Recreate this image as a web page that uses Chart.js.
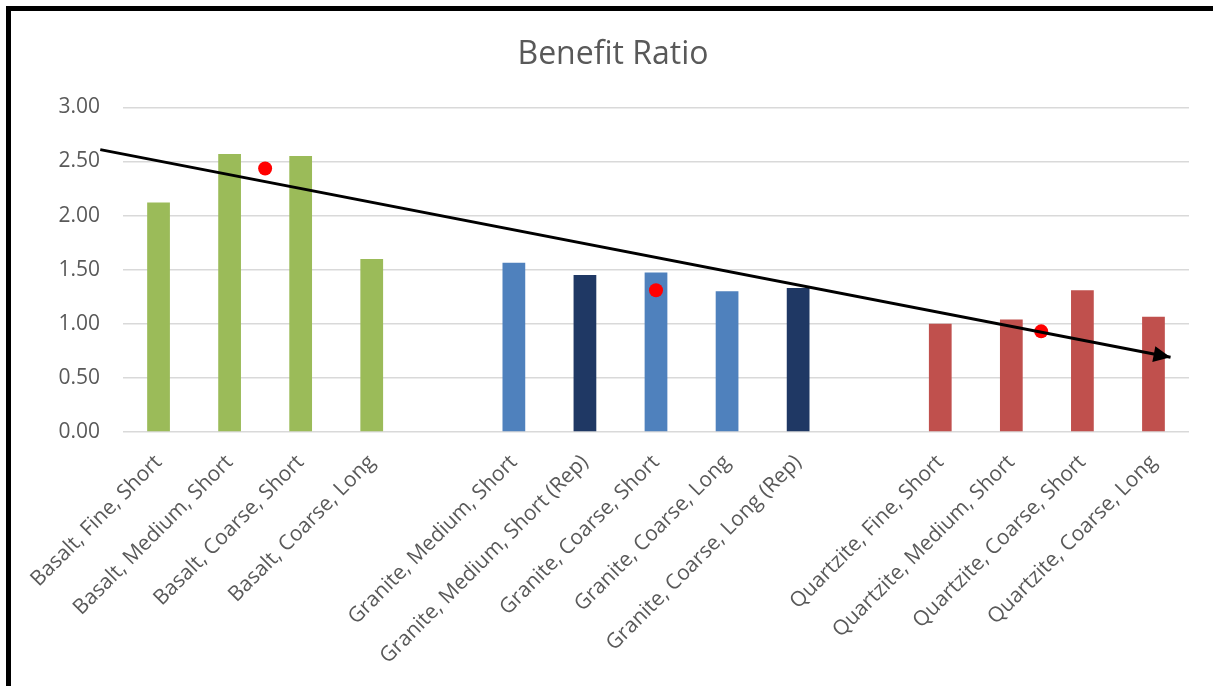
<!DOCTYPE html>
<html>
<head>
<meta charset="utf-8">
<title>Benefit Ratio</title>
<script src="https://cdn.jsdelivr.net/npm/chart.js@4.4.1/dist/chart.umd.min.js"></script>
<style>
  html, body { margin: 0; padding: 0; background: #fff; }
  #wrap { position: relative; width: 1213px; height: 686px; overflow: hidden; background: #fff; }
  #wrap canvas { position: absolute; left: 0; top: 0; }
  #frame {
    position: absolute; left: 6px; top: 6px; width: 1300px; height: 800px;
    border-top: 5px solid #000; border-left: 5px solid #000; pointer-events: none;
  }
</style>
</head>
<body>
<div id="wrap">
  <canvas id="chart" width="1213" height="686"></canvas>
  <div id="frame"></div>
</div>
<script>
// Rock type, grain size and run length for each bar; blank slots separate the groups
const categories = [
  'Basalt, Fine, Short', 'Basalt, Medium, Short', 'Basalt, Coarse, Short', 'Basalt, Coarse, Long',
  '',
  'Granite, Medium, Short', 'Granite, Medium, Short (Rep)', 'Granite, Coarse, Short',
  'Granite, Coarse, Long', 'Granite, Coarse, Long (Rep)',
  '',
  'Quartzite, Fine, Short', 'Quartzite, Medium, Short', 'Quartzite, Coarse, Short', 'Quartzite, Coarse, Long'
];

// Benefit ratio per category (null = spacer)
const benefitRatio = [
  2.12, 2.57, 2.55, 1.60,
  null,
  1.565, 1.45, 1.475, 1.30, 1.33,
  null,
  1.00, 1.04, 1.31, 1.065
];

// Bar fill per category
const barColors = [
  '#9BBB59', '#9BBB59', '#9BBB59', '#9BBB59',
  null,
  '#4F81BD', '#1F3864', '#4F81BD', '#4F81BD', '#1F3864',
  null,
  '#C0504D', '#C0504D', '#C0504D', '#C0504D'
];

// Group averages, placed by category position
const groupMeanX = [1.5, 7, 12.42];
const groupMeanY = [2.435, 1.31, 0.93];

// Downward trend arrow: start and end in category position / ratio
const trendX = [-0.82, 14.24];
const trendY = [2.61, 0.69];

// Value axis
const yMin = 0, yMax = 3, yStep = 0.5;

const textGrey = '#595959';
const gridGrey = '#D9D9D9';

// Arrowhead at the last point of the trend line
const arrowHead = {
  id: 'arrowHead',
  afterDatasetsDraw(chart) {
    const idx = chart.data.datasets.findIndex(d => d.label === 'Trend');
    const pts = chart.getDatasetMeta(idx).data;
    const a = pts[pts.length - 2], b = pts[pts.length - 1];
    const ang = Math.atan2(b.y - a.y, b.x - a.x);
    const ctx = chart.ctx;
    ctx.save();
    ctx.translate(b.x, b.y);
    ctx.rotate(ang);
    ctx.beginPath();
    ctx.moveTo(0, 0);
    ctx.lineTo(-17, -8);
    ctx.lineTo(-17, 8);
    ctx.closePath();
    ctx.fillStyle = '#000';
    ctx.fill();
    ctx.restore();
  }
};

const ctx = document.getElementById('chart').getContext('2d');
new Chart(ctx, {
  type: 'bar',
  data: {
    labels: categories,
    datasets: [
      {
        label: 'Benefit Ratio',
        data: benefitRatio,
        backgroundColor: barColors,
        barPercentage: 0.32,
        categoryPercentage: 1,
        grouped: false,
        xAxisID: 'x',
        order: 3
      },
      {
        type: 'scatter',
        label: 'Mean',
        data: groupMeanX.map((x, i) => ({ x, y: groupMeanY[i] })),
        backgroundColor: '#FF0000',
        borderWidth: 0,
        pointRadius: 7,
        xAxisID: 'xl',
        order: 2
      },
      {
        type: 'line',
        label: 'Trend',
        data: trendX.map((x, i) => ({ x, y: trendY[i] })),
        borderColor: '#000',
        borderWidth: 3,
        pointRadius: 0,
        fill: false,
        clip: false,
        xAxisID: 'xl',
        order: 1
      }
    ]
  },
  options: {
    responsive: false,
    animation: false,
    events: [],
    layout: { padding: { left: 37, right: 24, top: 24, bottom: 0 } },
    plugins: {
      legend: { display: false },
      tooltip: { enabled: false },
      title: {
        display: true,
        text: 'Benefit Ratio',
        color: textGrey,
        font: { family: 'Open Sans', size: 32, weight: 'normal' },
        padding: { top: 12, bottom: 33 }
      }
    },
    scales: {
      x: {
        type: 'category',
        offset: true,
        grid: { display: false, drawTicks: false },
        border: { display: false },
        ticks: {
          color: textGrey,
          font: { family: 'Open Sans', size: 21 },
          minRotation: 45,
          maxRotation: 45,
          autoSkip: false,
          padding: 18
        },
        afterFit(scale) { scale.height = 254; }
      },
      xl: {
        type: 'linear',
        display: false,
        offset: false,
        bounds: 'ticks',
        min: -0.5,
        max: 14.5
      },
      y: {
        min: yMin,
        max: yMax,
        grid: { color: gridGrey, lineWidth: 1.5, drawTicks: false },
        border: { display: false },
        ticks: {
          stepSize: yStep,
          color: textGrey,
          font: { family: 'Open Sans', size: 21 },
          padding: 23,
          callback: v => Number(v).toFixed(2)
        },
        afterFit(scale) { scale.width = 86; }
      }
    }
  },
  plugins: [arrowHead]
});
</script>
</body>
</html>
